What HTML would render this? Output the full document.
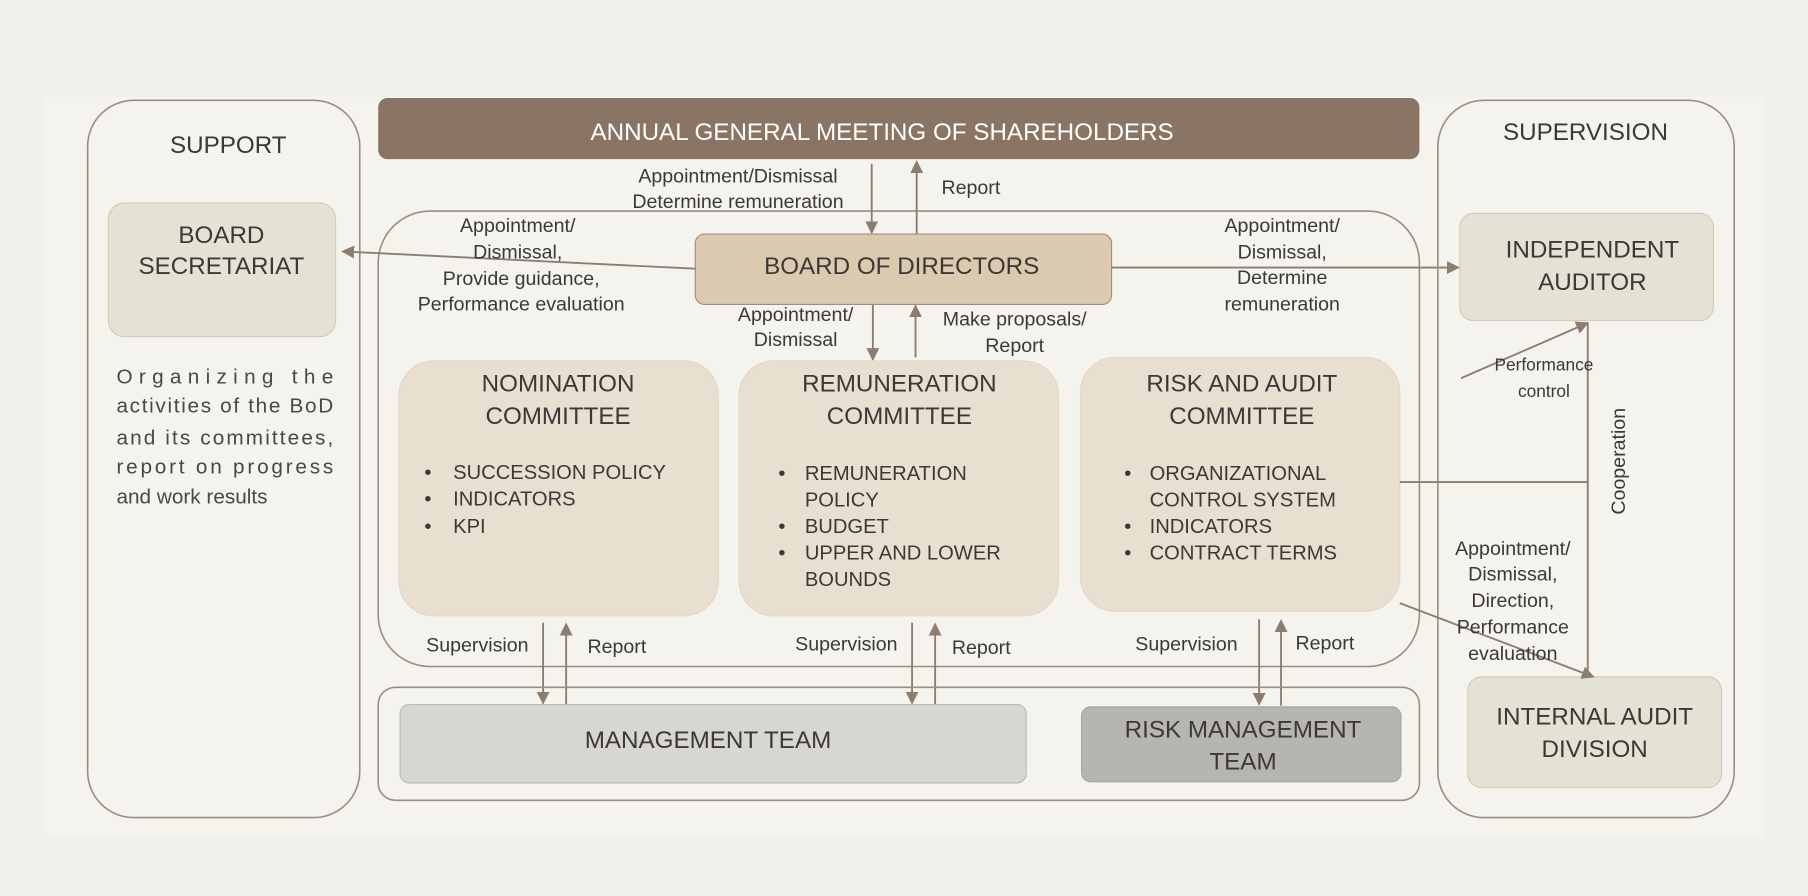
<!DOCTYPE html>
<html><head><meta charset="utf-8"><style>
html,body{margin:0;padding:0;background:#f2f0eb;}
svg{display:block}
text{font-family:"Liberation Sans",Arial,sans-serif;fill:#3b3835;dominant-baseline:central;text-anchor:middle}
.t{font-size:21px}
.l{font-size:17px}
.b{font-size:17.5px;text-anchor:start}
.p{font-size:18px;text-anchor:start;fill:#4a4744}
.ln{stroke:#8c7d6e;stroke-width:1.6;fill:none}
.box{fill:none;stroke:#9c8e7e;stroke-width:1.4}
</style></head><body>
<svg width="1808" height="896" viewBox="0 0 1568 777" xmlns="http://www.w3.org/2000/svg">
<defs><marker id="a" viewBox="0 0 10 10" refX="9" refY="5" markerWidth="7" markerHeight="7" orient="auto"><path d="M0,0 L10,5 L0,10 z" fill="#8c7d6e"/></marker></defs>
<rect x="0" y="0" width="1568" height="777" fill="#f2f0eb"/>
<rect x="40" y="84" width="1490" height="642" fill="#f4f3ee"/>
<!-- support -->
<rect class="box" x="76" y="87" width="236" height="622" rx="40"/>
<text class="t" x="198" y="126">SUPPORT</text>
<rect x="94" y="176" width="197" height="116" rx="14" fill="#e4e2d5" stroke="#d2ccb4"/>
<text class="t" x="192" y="204">BOARD</text>
<text class="t" x="192" y="231">SECRETARIAT</text>
<text class="p" x="101" y="327" textLength="188" lengthAdjust="spacing">Organizing the</text>
<text class="p" x="101" y="352" textLength="188" lengthAdjust="spacing">activities of the BoD</text>
<text class="p" x="101" y="380" textLength="188" lengthAdjust="spacing">and its committees,</text>
<text class="p" x="101" y="405" textLength="188" lengthAdjust="spacing">report on progress</text>
<text class="p" x="101" y="431">and work results</text>
<!-- AGM -->
<rect x="328" y="85" width="903" height="53" rx="8" fill="#8a7463"/>
<text class="t" x="765" y="115" style="fill:#fff">ANNUAL GENERAL MEETING OF SHAREHOLDERS</text>
<!-- main box -->
<rect class="box" x="328" y="183" width="903" height="395" rx="45"/>
<line class="ln" x1="756" y1="142" x2="756" y2="202" marker-end="url(#a)"/>
<line class="ln" x1="795" y1="203" x2="795" y2="140" marker-end="url(#a)"/>
<text class="l" x="640" y="153">Appointment/Dismissal</text>
<text class="l" x="640" y="175">Determine remuneration</text>
<text class="l" x="842" y="163">Report</text>
<rect x="603" y="203" width="361" height="61" rx="8" fill="#dccab0" stroke="#a08e78"/>
<text class="t" x="782" y="231">BOARD OF DIRECTORS</text>
<line class="ln" x1="603" y1="233" x2="297" y2="218" marker-end="url(#a)"/>
<text class="l" x="449" y="196">Appointment/</text>
<text class="l" x="449" y="219">Dismissal,</text>
<text class="l" x="452" y="242">Provide guidance,</text>
<text class="l" x="452" y="264">Performance evaluation</text>
<line class="ln" x1="964" y1="232" x2="1265" y2="232" marker-end="url(#a)"/>
<text class="l" x="1112" y="196">Appointment/</text>
<text class="l" x="1112" y="219">Dismissal,</text>
<text class="l" x="1112" y="241">Determine</text>
<text class="l" x="1112" y="264">remuneration</text>
<line class="ln" x1="757" y1="264" x2="757" y2="312" marker-end="url(#a)"/>
<line class="ln" x1="794" y1="310" x2="794" y2="265" marker-end="url(#a)"/>
<text class="l" x="690" y="273">Appointment/</text>
<text class="l" x="690" y="295">Dismissal</text>
<text class="l" x="880" y="277">Make proposals/</text>
<text class="l" x="880" y="300">Report</text>
<!-- committees -->
<rect x="346" y="313" width="277" height="221" rx="30" fill="#e8dfd0" stroke="#e2d8c4"/>
<text class="t" x="484" y="333">NOMINATION</text>
<text class="t" x="484" y="361">COMMITTEE</text>
<text class="b" x="368" y="410">•</text><text class="b" x="393" y="410">SUCCESSION POLICY</text>
<text class="b" x="368" y="433">•</text><text class="b" x="393" y="433">INDICATORS</text>
<text class="b" x="368" y="457">•</text><text class="b" x="393" y="457">KPI</text>
<rect x="641" y="313" width="277" height="221" rx="30" fill="#e8dfd0" stroke="#e2d8c4"/>
<text class="t" x="780" y="333">REMUNERATION</text>
<text class="t" x="780" y="361">COMMITTEE</text>
<text class="b" x="675" y="411">•</text><text class="b" x="698" y="411">REMUNERATION</text>
<text class="b" x="698" y="434">POLICY</text>
<text class="b" x="675" y="457">•</text><text class="b" x="698" y="457">BUDGET</text>
<text class="b" x="675" y="480">•</text><text class="b" x="698" y="480">UPPER AND LOWER</text>
<text class="b" x="698" y="503">BOUNDS</text>
<rect x="937" y="310" width="277" height="220" rx="30" fill="#e8dfd0" stroke="#e2d8c4"/>
<text class="t" x="1077" y="333">RISK AND AUDIT</text>
<text class="t" x="1077" y="361">COMMITTEE</text>
<text class="b" x="975" y="411">•</text><text class="b" x="997" y="411">ORGANIZATIONAL</text>
<text class="b" x="997" y="434">CONTROL SYSTEM</text>
<text class="b" x="975" y="457">•</text><text class="b" x="997" y="457">INDICATORS</text>
<text class="b" x="975" y="480">•</text><text class="b" x="997" y="480">CONTRACT TERMS</text>
<!-- supervision/report -->
<line class="ln" x1="471" y1="540" x2="471" y2="610" marker-end="url(#a)"/>
<line class="ln" x1="491" y1="611" x2="491" y2="541" marker-end="url(#a)"/>
<text class="l" x="414" y="560">Supervision</text><text class="l" x="535" y="561">Report</text>
<line class="ln" x1="791" y1="540" x2="791" y2="610" marker-end="url(#a)"/>
<line class="ln" x1="811" y1="611" x2="811" y2="541" marker-end="url(#a)"/>
<text class="l" x="734" y="559">Supervision</text><text class="l" x="851" y="562">Report</text>
<line class="ln" x1="1092" y1="537" x2="1092" y2="611" marker-end="url(#a)"/>
<line class="ln" x1="1111" y1="612" x2="1111" y2="538" marker-end="url(#a)"/>
<text class="l" x="1029" y="559">Supervision</text><text class="l" x="1149" y="558">Report</text>
<!-- bottom -->
<rect class="box" x="328" y="596" width="903" height="98" rx="15"/>
<rect x="347" y="611" width="543" height="68" rx="8" fill="#d8d6d0" stroke="#bdb9b0"/>
<text class="t" x="614" y="642">MANAGEMENT TEAM</text>
<rect x="938" y="613" width="277" height="65" rx="8" fill="#b7b5b1" stroke="#a8a6a2"/>
<text class="t" x="1078" y="633">RISK MANAGEMENT</text>
<text class="t" x="1078" y="661">TEAM</text>
<!-- supervision -->
<rect class="box" x="1247" y="87" width="257" height="622" rx="40"/>
<text class="t" x="1375" y="115">SUPERVISION</text>
<rect x="1266" y="185" width="220" height="93" rx="12" fill="#e4e2d5" stroke="#d2ccb4"/>
<text class="t" x="1381" y="217">INDEPENDENT</text>
<text class="t" x="1381" y="245">AUDITOR</text>
<rect x="1273" y="587" width="220" height="96" rx="12" fill="#e4e2d5" stroke="#d2ccb4"/>
<text class="t" x="1383" y="622">INTERNAL AUDIT</text>
<text class="t" x="1383" y="650">DIVISION</text>
<line class="ln" x1="1214" y1="418" x2="1377" y2="418"/>
<line class="ln" x1="1377" y1="280" x2="1377" y2="587"/>
<line class="ln" x1="1267" y1="328" x2="1377" y2="280" marker-end="url(#a)"/>
<line class="ln" x1="1214" y1="523" x2="1382" y2="587" marker-end="url(#a)"/>
<text x="1339" y="316" style="font-size:15px">Performance</text>
<text x="1339" y="339" style="font-size:15px">control</text>
<text class="l" x="1404" y="400" transform="rotate(-90 1404 400)">Cooperation</text>
<text class="l" x="1312" y="476">Appointment/</text>
<text class="l" x="1312" y="498">Dismissal,</text>
<text class="l" x="1312" y="521">Direction,</text>
<text class="l" x="1312" y="544">Performance</text>
<text class="l" x="1312" y="567">evaluation</text>
</svg>
</body></html>
